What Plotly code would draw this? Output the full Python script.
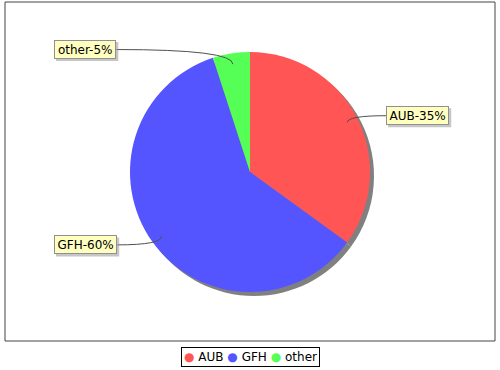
import math
import plotly.graph_objects as go

# ---- data ----
categories = ["AUB", "GFH", "other"]
values = [35, 60, 5]
colors = ["#FF5555", "#5555FF", "#55FF55"]

# ---- geometry / style ----
W, H = 500, 370
CX, CY, R = 250, 172, 120
SHADOW = 4
FONT = "DejaVu Sans"

# DejaVu Sans advance widths (units / 2048) for label width estimation
ADV = {'o': 1253, 't': 803, 'h': 1298, 'e': 1260, 'r': 842, '-': 739, '%': 1946,
       'A': 1401, 'U': 1499, 'B': 1405, 'G': 1589, 'F': 1178, 'H': 1540,
       '0': 1303, '1': 1303, '2': 1303, '3': 1303, '4': 1303, '5': 1303,
       '6': 1303, '7': 1303, '8': 1303, '9': 1303}


def text_w(s, size=12):
    return sum(ADV.get(c, 1250) for c in s) * size / 2048


def px(x):
    return x / W


def py(y):
    return 1 - y / H


fig = go.Figure()

# pie shadow
fig.add_trace(go.Pie(
    values=values, labels=categories, sort=False, direction="clockwise", rotation=0,
    marker=dict(colors=["#808080"] * len(values), line=dict(width=0)),
    textinfo="none", hoverinfo="skip", showlegend=False,
    domain=dict(x=[px(CX - R + SHADOW), px(CX + R + SHADOW)],
                y=[py(CY + R + SHADOW), py(CY - R + SHADOW)])))

# pie
fig.add_trace(go.Pie(
    values=values, labels=categories, sort=False, direction="clockwise", rotation=0,
    marker=dict(colors=colors, line=dict(width=0)),
    textinfo="none", showlegend=False,
    domain=dict(x=[px(CX - R), px(CX + R)], y=[py(CY + R), py(CY - R)])))

shapes = []
annotations = []

# plot border
shapes.append(dict(type="rect", xref="paper", yref="paper",
                   x0=px(5), x1=px(495), y0=py(341), y1=py(2),
                   line=dict(color="#444444", width=1), fillcolor="rgba(0,0,0,0)"))

BOX_H = 19
total = sum(values)
cum = 0
for cat, v in zip(categories, values):
    mid = (cum + v / 2) / total
    cum += v
    th = 2 * math.pi * mid
    ax = CX + 0.91 * R * math.sin(th)
    ay = CY - 0.91 * R * math.cos(th)
    ly = CY - 124 * math.cos(th)
    label = f"{cat}-{round(100 * v / total)}%"
    bw = text_w(label) + 7
    if math.sin(th) > 0:
        left = CX + 136
        attach = left
    else:
        left = CX - 196
        attach = left + bw
    # leader curve
    shapes.append(dict(type="path", xref="paper", yref="paper",
                       path=f"M {px(attach)},{py(ly)} Q {px(ax)},{py(ly)} {px(ax)},{py(ay)}",
                       line=dict(color="#505050", width=1)))
    # label shadow
    shapes.append(dict(type="rect", xref="paper", yref="paper",
                       x0=px(left + 2), x1=px(left + bw + 2),
                       y0=py(ly + BOX_H / 2 + 2), y1=py(ly - BOX_H / 2 + 2),
                       fillcolor="rgba(151,151,151,0.55)", line=dict(width=0)))
    # label
    annotations.append(dict(x=px(left), y=py(ly), xref="paper", yref="paper",
                            xanchor="left", yanchor="middle", showarrow=False,
                            width=bw - 2, height=BOX_H - 2, align="center", valign="middle",
                            text=label, font=dict(family=FONT, size=12, color="#000000"),
                            bgcolor="#FFFFC0", borderpad=0, borderwidth=1,
                            bordercolor="#909090"))

# legend (built from categories/colors)
legend_text = " ".join(f"<span style='color:{c}'>●</span> {cat}" for cat, c in zip(categories, colors))
annotations.append(dict(x=0.5, y=py(356.5), xref="paper", yref="paper",
                        xanchor="center", yanchor="middle", showarrow=False,
                        text=legend_text, font=dict(family=FONT, size=12, color="#000000"),
                        bgcolor="#FFFFFF", bordercolor="#000000", borderwidth=1, borderpad=2))

fig.update_layout(
    width=W, height=H, margin=dict(l=0, r=0, t=0, b=0),
    paper_bgcolor="#FFFFFF", plot_bgcolor="#FFFFFF",
    shapes=shapes, annotations=annotations, showlegend=False,
    font=dict(family=FONT, size=12),
)

fig.write_html("out.html", config={"displayModeBar": False})

# remove default body margin so the figure sits at the window's top-left
with open("out.html", encoding="utf-8") as f:
    html = f.read()
html = html.replace("<head>", "<head><style>html,body{margin:0;padding:0;overflow:hidden}</style>", 1)
with open("out.html", "w", encoding="utf-8") as f:
    f.write(html)
